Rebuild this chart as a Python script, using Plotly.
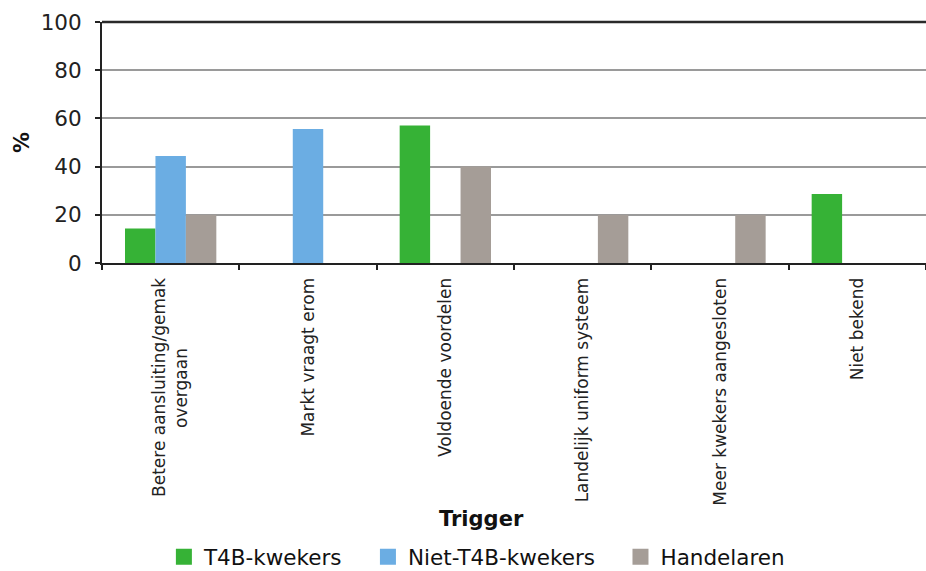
import plotly.graph_objects as go

NB = "\u00a0"
categories = [
    "Betere aansluiting/gemak<br>overgaan" + NB * 13,
    "Markt vraagt erom",
    "Voldoende voordelen",
    "Landelijk uniform systeem",
    "Meer kwekers aangesloten",
    "Niet bekend",
]
series_names = ["T4B-kwekers", "Niet-T4B-kwekers", "Handelaren"]
t4b = [14.3, 0, 57.1, 0, 0, 28.6]
niet_t4b = [44.4, 55.6, 0, 0, 0, 0]
handelaren = [20, 0, 40, 20, 20, 0]
colors = ["#36B236", "#6BADE3", "#A59D97"]
y_ticks = [0, 20, 40, 60, 80, 100]
x_title = "Trigger"
y_title = "%"

FONT = "Verdana, DejaVu Sans, sans-serif"

fig = go.Figure()
for i, (name, vals, col) in enumerate(zip(series_names, [t4b, niet_t4b, handelaren], colors)):
    fig.add_trace(go.Bar(x=categories, y=vals, name=name, marker_color=col,
                         marker_line_width=0, showlegend=False, legendgroup=name))
    pad = NB * 3 if i < len(series_names) - 1 else ""
    fig.add_trace(go.Scatter(x=[None], y=[None], mode="markers", name=name + pad,
                             legendgroup=name,
                             marker=dict(symbol="square", size=22, color=col)))

fig.update_layout(
    width=926, height=571,
    margin=dict(l=102, r=0, t=22, b=308, autoexpand=False),
    paper_bgcolor="white", plot_bgcolor="white",
    barmode="group", bargap=0.335, bargroupgap=0,
    font=dict(family=FONT, color="#222222"),
    showlegend=True,
    legend=dict(orientation="h", xref="container", yref="container",
                x=0.515, xanchor="center", y=0.025, yanchor="middle",
                font=dict(size=21.5, family=FONT, color="#111111"),
                itemwidth=30, traceorder="normal", bgcolor="rgba(0,0,0,0)"),
)
fig.update_xaxes(
    type="category", tickangle=-90, tickson="boundaries",
    ticks="outside", ticklen=5, tickcolor="#222222", tickwidth=1.5,
    showline=True, linecolor="#222222", linewidth=2,
    tickfont=dict(size=17, family=FONT, color="#222222"),
    ticklabelstandoff=6, automargin=False,
    showgrid=False,
)
fig.update_yaxes(
    range=[0, 100], tickvals=y_ticks,
    ticks="outside", ticklen=5, tickcolor="#222222", tickwidth=1.5,
    showline=True, linecolor="#222222", linewidth=2,
    showgrid=True, gridcolor="#9A9A9A", gridwidth=2,
    tickfont=dict(size=21.5, family=FONT, color="#222222"),
    ticklabelstandoff=9, automargin=False,
    zeroline=False,
)
fig.add_annotation(text="<b>" + x_title + "</b>", xref="paper", yref="paper",
                   x=0.46, y=-1.062, xanchor="center", yanchor="middle", showarrow=False,
                   font=dict(size=21, family=FONT, color="#111111"))
fig.add_annotation(text="<b>" + y_title + "</b>", xref="paper", yref="paper",
                   x=-0.097, y=0.498, xanchor="center", yanchor="middle", showarrow=False,
                   textangle=-90, font=dict(size=21, family=FONT, color="#111111"))
fig.add_shape(type="line", xref="paper", yref="paper", x0=0, x1=1, y0=1, y1=1,
              line=dict(color="#2A2A2A", width=2.5))

fig.write_html("out.html")
